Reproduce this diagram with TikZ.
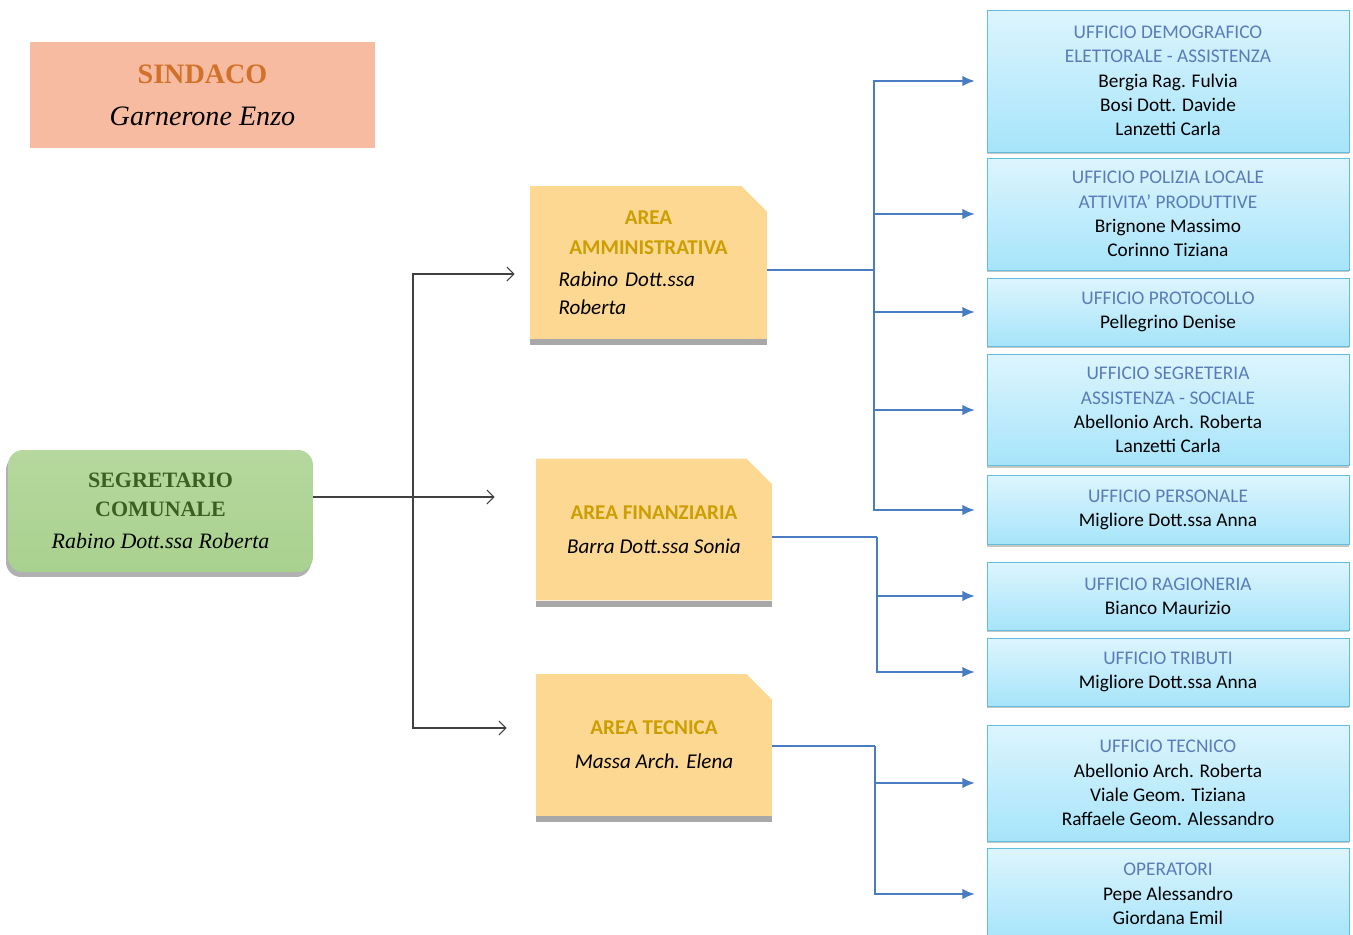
\documentclass[tikz,border=0pt]{standalone}
\usepackage{fontspec}
\setmainfont{Carlito}
\newfontfamily\timesfont{Liberation Serif}
\usetikzlibrary{calc}
\usetikzlibrary{shapes.misc}
\usetikzlibrary{shadows}
\usetikzlibrary{arrows.meta}

\definecolor{salmone}{HTML}{F7BBA1}
\definecolor{arancio}{HTML}{D2722A}
\definecolor{verde}{HTML}{A9D18E}
\definecolor{verdescuro}{HTML}{3A5F20}
\definecolor{giallo}{HTML}{FCD893}
\definecolor{oro}{HTML}{CC9E00}
\definecolor{celeste}{HTML}{DDF5FD}
\definecolor{celestescuro}{HTML}{A6E4FA}
\definecolor{bordoceleste}{HTML}{62BEDD}
\definecolor{titoloblu}{HTML}{5A7DB8}
\definecolor{lineablu}{HTML}{4A7CC4}
\definecolor{grigio}{HTML}{A8A8A8}

\begin{document}
\begin{tikzpicture}[x=0.02cm, y=-0.02cm,
  ufficio/.style={rectangle, draw=bordoceleste, line width=0.5pt,
    top color=celeste, bottom color=celestescuro, minimum width=7.24cm,
    align=center, font=\fontsize{11}{13.8}\selectfont,
    drop shadow={shadow xshift=0pt, shadow yshift=-0.05cm, opacity=0.45}},
  area/.style={chamfered rectangle, chamfered rectangle corners=north east,
    chamfered rectangle xsep=0.4cm, fill=giallo, draw=none,
    font=\fontsize{12}{15.5}\selectfont},
  nero/.style={draw=black!75, line width=0.6pt, -{Straight Barb[length=4pt,width=8pt]}},
  blu/.style={draw=lineablu, line width=0.8pt}]

\useasboundingbox (0,0) rectangle (1353,935);

%titoli colorati degli uffici, una riga per volta
\def\tit#1{\textcolor{titoloblu}{#1}}
\def\ttarea#1{\textcolor{oro}{\bfseries #1}}

% (nome, y del centro, altezza, testo)
\def\ufficio(#1,#2,#3,#4){
\node[ufficio, minimum height=#3] (#1) at (1168,#2) {#4};}

%Sindaco
\node[fill=salmone, minimum width=6.9cm, minimum height=2.12cm, align=center,
  font=\timesfont\fontsize{16}{24}\selectfont] (sind) at (202.5,95)
  {\textcolor{arancio}{\bfseries SINDACO}\\\textit{Garnerone Enzo}};

%Segretario comunale
\node[rectangle, rounded corners=0.3cm, top color=verde!85!white, bottom color=verde,
  minimum width=6.1cm, minimum height=2.44cm, align=center,
  drop shadow={shadow xshift=-0.04cm, shadow yshift=-0.1cm, fill=grigio, opacity=0.9},
  font=\timesfont\fontsize{12.5}{16.5}\selectfont] (sg) at (160.5,511)
  {\textcolor{verdescuro}{\bfseries SEGRETARIO}\\\textcolor{verdescuro}{\bfseries COMUNALE}\\[2pt]\textit{Rabino Dott.ssa Roberta}};

%Aree (con la fascia grigia sotto)
\node[area, minimum width=4.74cm, minimum height=3.06cm, text width=3.6cm] (aa) at (648.5,262.5)
  {{\centering\ttarea{AREA}\\[1.5pt]\ttarea{AMMINISTRATIVA}\par}\vspace{3pt}
   \itshape Rabino Dott.ssa\\Roberta};
\node[area, minimum width=4.72cm, minimum height=2.84cm, align=center] (af) at (654,529.5)
  {\ttarea{AREA FINANZIARIA}\\[4pt]\textit{Barra Dott.ssa Sonia}};
\node[area, minimum width=4.72cm, minimum height=2.84cm, align=center] (at) at (654,745)
  {\ttarea{AREA TECNICA}\\[4pt]\textit{Massa Arch. Elena}};
\foreach \a in {aa,af,at}
  \fill[grigio] (\a.south -| \a.west) rectangle ($(\a.south -| \a.east)+(0,6)$);

%Uffici
\ufficio(u1,81,2.84cm,\tit{UFFICIO DEMOGRAFICO}\\\tit{ELETTORALE - ASSISTENZA}\\Bergia Rag. Fulvia\\Bosi Dott. Davide\\Lanzetti Carla)
\ufficio(u2,214,2.24cm,\tit{UFFICIO POLIZIA LOCALE}\\\tit{ATTIVITA’ PRODUTTIVE}\\Brignone Massimo\\Corinno Tiziana)
\ufficio(u3,312,1.36cm,\tit{UFFICIO PROTOCOLLO}\\Pellegrino Denise)
\ufficio(u4,410,2.22cm,\tit{UFFICIO SEGRETERIA}\\\tit{ASSISTENZA - SOCIALE}\\Abellonio Arch. Roberta\\Lanzetti Carla)
\ufficio(u5,510,1.38cm,\tit{UFFICIO PERSONALE}\\Migliore Dott.ssa Anna)
\ufficio(u6,596,1.36cm,\tit{UFFICIO RAGIONERIA}\\Bianco Maurizio)
\ufficio(u7,672,1.36cm,\tit{UFFICIO TRIBUTI}\\Migliore Dott.ssa Anna)
\ufficio(u8,783,2.32cm,\tit{UFFICIO TECNICO}\\Abellonio Arch. Roberta\\Viale Geom. Tiziana\\Raffaele Geom. Alessandro)
\ufficio(u9,894,1.84cm,\tit{OPERATORI}\\Pepe Alessandro\\Giordana Emil)

%Linee dal segretario alle aree
\coordinate (jb) at (413,497);
\draw[nero,-] (jb -| sg.east) -- (jb);
\draw[nero,shorten >=0.3cm] (jb) |- ([yshift=-0.23cm]aa.west);
\draw[nero,shorten >=0.82cm] (jb) -- (jb -| af.west);
\draw[nero,shorten >=0.58cm] (jb) |- ([yshift=0.34cm]at.west);

%Linee dalle aree agli uffici
\coordinate (ja) at (874,270);
\coordinate (jf) at (877,537);
\coordinate (jt) at (875,746);
\draw[blu] (ja -| aa.east) -- (ja);
\draw[blu] (jf -| af.east) -- (jf);
\draw[blu] (jt -| at.east) -- (jt);
\foreach \u in {u1,u2,u3,u4,u5}
  \draw[blu,-{Latex[length=7pt,width=6pt]},shorten >=0.24cm] (ja) |- (\u.west);
\foreach \u in {u6,u7}
  \draw[blu,-{Latex[length=7pt,width=6pt]},shorten >=0.24cm] (jf) |- (\u.west);
\foreach \u in {u8,u9}
  \draw[blu,-{Latex[length=7pt,width=6pt]},shorten >=0.24cm] (jt) |- (\u.west);

\end{tikzpicture}
\end{document}
